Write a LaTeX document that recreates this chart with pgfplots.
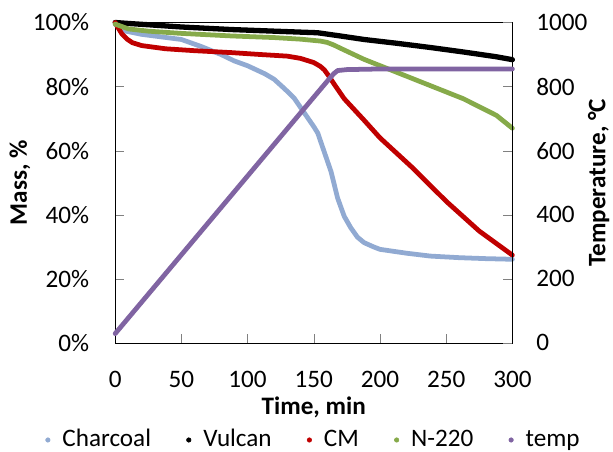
\documentclass[border=0pt]{standalone}
\usepackage{fontspec}
\setmainfont{Carlito}
\usepackage{pgfplots}
\pgfplotsset{compat=1.18}

\definecolor{charcoal}{RGB}{145,170,210}
\definecolor{cmred}{RGB}{192,0,0}
\definecolor{ngreen}{RGB}{134,170,74}
\definecolor{tpurple}{RGB}{128,100,162}

\pgfplotsset{
  every axis/.append style={font=\fontsize{19}{23}\selectfont},
  series/.style={line width=3.6pt, line join=round, line cap=round, no marks},
}

\begin{document}
\fontsize{19}{23}\selectfont
\begin{tikzpicture}
% mass axis (left)
\begin{axis}[
  scale only axis, width=300pt, height=242pt,
  xmin=0, xmax=300, ymin=0, ymax=100,
  xtick={0,50,...,300}, ytick={0,20,...,100},
  xtick pos=bottom, ytick pos=left,
  tick align=inside, major tick length=7pt,
  yticklabel={\pgfmathprintnumber{\tick}\%},
  xticklabel style={inner sep=0pt, yshift=-21pt},
  yticklabel style={inner sep=0pt, xshift=-19.5pt},
  /pgf/number format/assume math mode=true,
  xlabel={\textbf{Time, min}}, ylabel={\textbf{Mass, \%}},
  every axis x label/.style={at={(rel axis cs:0.5,0)}, yshift=-48.5pt, anchor=center, inner sep=0pt},
  every axis y label/.style={at={(rel axis cs:0,0.5)}, xshift=-64pt, rotate=90, anchor=south, inner sep=0pt},
  clip=false,
]
\path (rel axis cs:0,1) ++(-87pt,17pt);
\path (rel axis cs:1,0) ++(76pt,0pt);
% Charcoal
\addplot[series, color=charcoal] coordinates {
(0,99.5)(3,98.5)(8,97.3)(20,96.3)(35,95.5)(50,94.7)(65,92.5)(80,90)(90,88)
(100,86.5)(113,84)(120,82.3)(128,79.3)(135,76.5)(140,73.5)(145,70.5)(150,67.5)
(153,65.5)(158,59.5)(163,53.5)(168,45.2)(173,39.5)(178,35.9)(183,33)(188,31.3)
(195,30)(200,29.2)(220,28)(238,27.1)(260,26.6)(280,26.3)(300,26.1)
};
% Vulcan
\addplot[series, color=black, line width=4pt] coordinates {
(0,100)(10,99.7)(25,99.3)(50,98.6)(88,97.8)(120,97.3)(153,96.8)(170,95.8)
(188,94.7)(213,93.5)(238,92.2)(263,90.8)(288,89.3)(300,88.4)
};
% CM
\addplot[series, color=cmred] coordinates {
(0,100)(2,98.5)(5,96.5)(9,94.8)(13,93.7)(20,92.8)(38,91.8)(60,91.2)(88,90.6)
(110,90)(130,89.5)(140,88.8)(150,87.5)(155,86.3)(158,85.2)(161,83.5)(165,81)
(173,76.2)(188,69.5)(200,64)(225,54.5)(250,44.2)(275,34.9)(300,27.4)
};
% N-220
\addplot[series, color=ngreen] coordinates {
(0,99.5)(10,98)(25,97.3)(50,96.6)(88,95.8)(120,95.3)(140,94.8)(155,94.2)
(160,93.8)(165,93)(170,92)(188,88.5)(213,84.4)(238,80.3)(263,76.2)(288,71)(300,67)
};
\end{axis}
% temperature axis (right)
\begin{axis}[
  scale only axis, width=300pt, height=242pt,
  xmin=0, xmax=300, ymin=0, ymax=1000,
  axis x line=none, axis y line*=right,
  ytick={0,200,...,1000}, ytick pos=right,
  tick align=inside, major tick length=7pt,
  yticklabel style={inner sep=0pt, xshift=18pt},
  /pgf/number format/assume math mode=true,
  /pgf/number format/1000 sep={},
  ylabel={\textbf{Temperature, °C}},
  every axis y label/.style={at={(rel axis cs:1,0.5)}, xshift=57pt, rotate=90, anchor=north, inner sep=0pt},
  clip=false,
  legend image code/.code={
    \path[draw=none, fill=none] (-2pt,-2pt) rectangle (9pt,2pt);
    \fill[#1] (0pt,0pt) circle (1.7pt);},
  legend style={at={(0.5,-0.303)}, anchor=center, draw=none, fill=none,
    inner sep=0pt, outer sep=0pt, nodes={inner ysep=1pt},
    legend columns=5, font=\fontsize{19}{23}\selectfont,
    /tikz/every even column/.append style={column sep=24.5pt}},
]
\addlegendimage{color=charcoal}
\addlegendimage{color=black}
\addlegendimage{color=cmred}
\addlegendimage{color=ngreen}
\addlegendimage{color=tpurple}
% temp
\addplot[series, color=tpurple, forget plot] coordinates {
(0,29)(50,275)(100,521)(150,767)(160,816)(165,840)(168,850)(175,853)(200,855)(300,855)
};
\legend{Charcoal, Vulcan, CM, N-220, temp}
\end{axis}
\end{tikzpicture}
\end{document}
